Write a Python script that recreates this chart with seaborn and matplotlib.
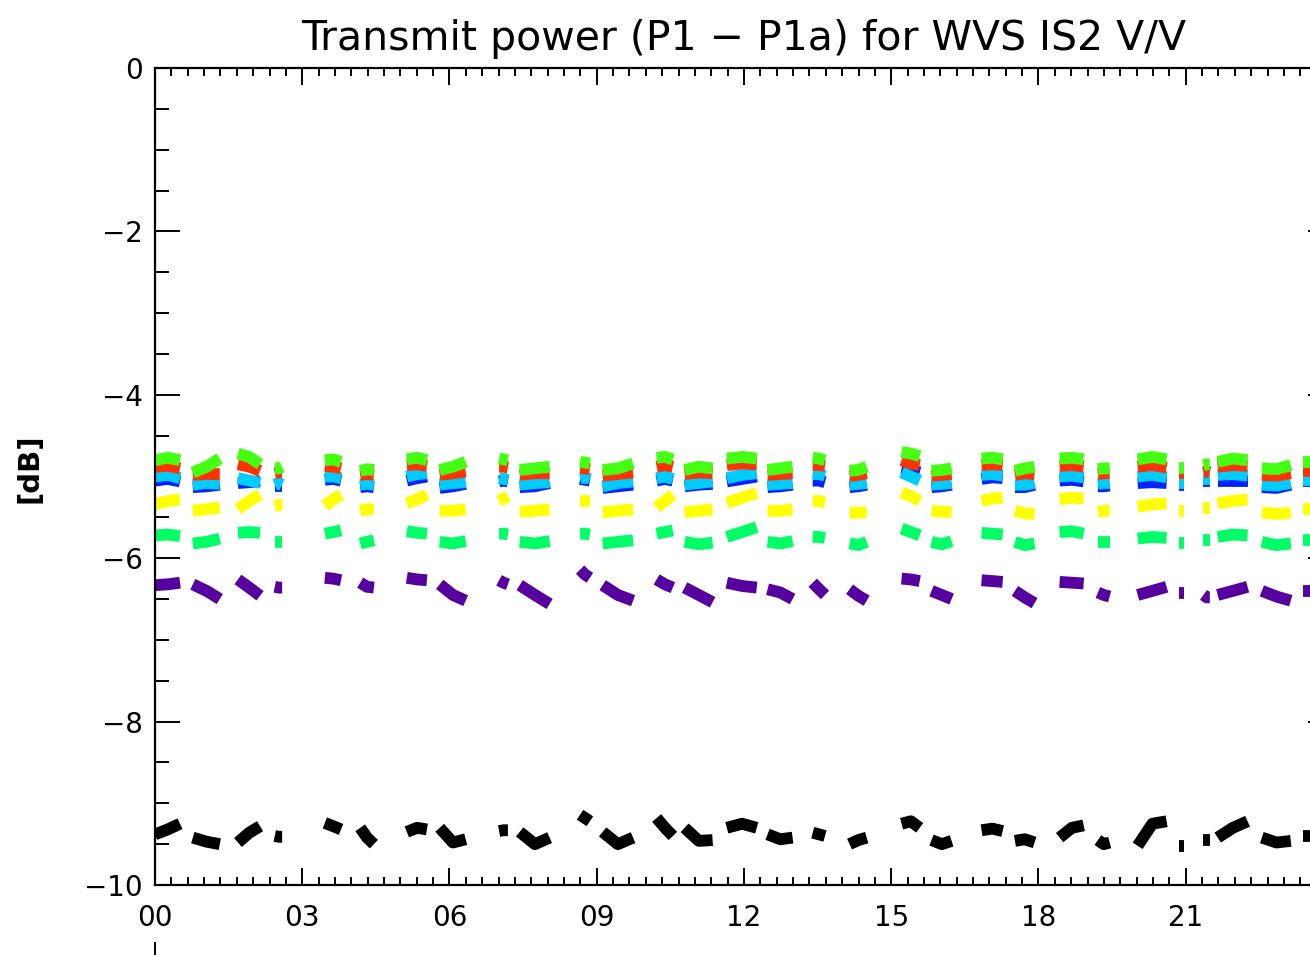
import numpy as np
import pandas as pd
import matplotlib
matplotlib.use("Agg")
import matplotlib.pyplot as plt
from matplotlib.ticker import MultipleLocator, FixedLocator
from matplotlib.lines import Line2D
import seaborn as sns

# pass windows (hours of day): start, middle, end
seg_start = [0.00, 0.77, 1.69, 2.44, 3.46, 4.18, 5.13, 5.80, 7.01, 7.43,
             8.66, 9.12, 10.22, 10.79, 11.65, 12.48, 13.40, 14.15, 15.21, 15.82,
             16.84, 17.52, 18.43, 19.21, 20.02, 20.86, 21.36, 21.65, 22.55, 23.38]
seg_mid = [0.26, 1.05, 1.92, 2.52, 3.63, 4.32, 5.34, 6.07, 7.10, 7.74,
           8.76, 9.43, 10.39, 11.08, 11.96, 12.74, 13.53, 14.33, 15.40, 16.03,
           17.06, 17.72, 18.68, 19.33, 20.32, 20.91, 21.43, 21.96, 22.85, 23.57]
seg_end = [0.51, 1.32, 2.14, 2.59, 3.79, 4.46, 5.54, 6.33, 7.19, 8.04,
           8.86, 9.74, 10.55, 11.36, 12.26, 12.99, 13.65, 14.50, 15.58, 16.23,
           17.27, 17.92, 18.92, 19.45, 20.61, 20.96, 21.49, 22.26, 23.14, 23.75]

# transmit power per pass (start, mid, end) in dB
lime = [(-4.80, -4.77, -4.80), (-4.95, -4.88, -4.78), (-4.72, -4.76, -4.85), (-4.90, -4.90, -4.88),
        (-4.80, -4.79, -4.82), (-4.93, -4.91, -4.92), (-4.79, -4.77, -4.80), (-4.92, -4.88, -4.82),
        (-4.78, -4.79, -4.80), (-4.92, -4.90, -4.88), (-4.82, -4.83, -4.84), (-4.92, -4.90, -4.84),
        (-4.77, -4.76, -4.79), (-4.92, -4.88, -4.90), (-4.78, -4.76, -4.78), (-4.92, -4.90, -4.88),
        (-4.77, -4.78, -4.80), (-4.93, -4.92, -4.88), (-4.70, -4.72, -4.75), (-4.93, -4.92, -4.90),
        (-4.78, -4.77, -4.79), (-4.93, -4.90, -4.88), (-4.78, -4.77, -4.79), (-4.91, -4.90, -4.90),
        (-4.79, -4.76, -4.79), (-4.90, -4.90, -4.90), (-4.86, -4.85, -4.85), (-4.82, -4.78, -4.80),
        (-4.90, -4.91, -4.86), (-4.82, -4.82, -4.82)]
red = [(-4.88, -4.87, -4.90), (-4.98, -4.97, -4.97), (-4.85, -4.88, -4.93), (-4.96, -4.95, -4.95),
       (-4.87, -4.88, -4.90), (-4.98, -4.97, -4.98), (-4.86, -4.85, -4.87), (-4.98, -4.96, -4.94),
       (-4.88, -4.88, -4.89), (-4.98, -4.96, -4.96), (-4.90, -4.90, -4.91), (-4.99, -4.97, -4.95),
       (-4.88, -4.86, -4.88), (-4.97, -4.95, -4.96), (-4.86, -4.84, -4.85), (-4.98, -4.97, -4.96),
       (-4.86, -4.86, -4.87), (-4.99, -4.98, -4.96), (-4.80, -4.84, -4.86), (-4.99, -4.98, -4.97),
       (-4.86, -4.85, -4.86), (-4.98, -4.96, -4.97), (-4.87, -4.86, -4.88), (-4.97, -4.96, -4.96),
       (-4.88, -4.86, -4.89), (-4.96, -4.96, -4.96), (-4.95, -4.94, -4.95), (-4.88, -4.86, -4.87),
       (-4.98, -4.99, -4.96), (-4.93, -4.93, -4.93)]
cyan = [(-5.00, -4.98, -5.02), (-5.10, -5.08, -5.09), (-5.02, -5.05, -5.08), (-5.10, -5.08, -5.10),
        (-5.00, -5.00, -5.02), (-5.10, -5.09, -5.10), (-5.00, -4.97, -4.96), (-5.10, -5.08, -5.07),
        (-5.02, -5.03, -5.04), (-5.10, -5.08, -5.07), (-5.02, -5.01, -5.03), (-5.12, -5.08, -5.06),
        (-5.02, -5.00, -5.03), (-5.10, -5.08, -5.06), (-5.02, -4.98, -4.96), (-5.10, -5.09, -5.08),
        (-4.97, -4.97, -4.99), (-5.10, -5.09, -5.08), (-4.95, -5.00, -5.05), (-5.10, -5.09, -5.08),
        (-4.98, -4.97, -4.99), (-5.10, -5.10, -5.08), (-5.00, -4.99, -5.01), (-5.09, -5.08, -5.08),
        (-5.00, -4.98, -5.01), (-5.08, -5.08, -5.08), (-5.03, -5.03, -5.03), (-4.98, -4.97, -4.99),
        (-5.10, -5.11, -5.08), (-5.04, -5.04, -5.04)]
blue = [(-5.05, -5.03, -5.06), (-5.13, -5.12, -5.10), (-5.08, -5.07, -5.06), (-5.12, -5.12, -5.12),
        (-5.04, -5.03, -5.05), (-5.13, -5.12, -5.13), (-5.05, -5.02, -5.00), (-5.14, -5.12, -5.09),
        (-5.06, -5.05, -5.06), (-5.13, -5.12, -5.08), (-5.03, -5.04, -5.05), (-5.14, -5.12, -5.10),
        (-5.05, -5.03, -5.05), (-5.12, -5.10, -5.09), (-5.06, -5.03, -5.00), (-5.13, -5.12, -5.10),
        (-5.05, -5.05, -5.07), (-5.13, -5.12, -5.10), (-4.90, -4.92, -4.95), (-5.13, -5.12, -5.10),
        (-5.03, -5.01, -5.02), (-5.13, -5.13, -5.10), (-5.05, -5.04, -5.06), (-5.12, -5.12, -5.11),
        (-5.08, -5.07, -5.08), (-5.11, -5.11, -5.11), (-5.06, -5.06, -5.06), (-5.05, -5.05, -5.05),
        (-5.13, -5.14, -5.10), (-5.06, -5.06, -5.06)]
yellow = [(-5.34, -5.30, -5.28), (-5.42, -5.40, -5.38), (-5.40, -5.30, -5.22), (-5.36, -5.35, -5.35),
          (-5.36, -5.28, -5.22), (-5.42, -5.40, -5.40), (-5.33, -5.28, -5.22), (-5.42, -5.42, -5.40),
          (-5.30, -5.27, -5.24), (-5.43, -5.42, -5.40), (-5.30, -5.30, -5.30), (-5.44, -5.42, -5.40),
          (-5.38, -5.30, -5.22), (-5.44, -5.42, -5.40), (-5.32, -5.26, -5.20), (-5.42, -5.42, -5.40),
          (-5.30, -5.30, -5.32), (-5.45, -5.44, -5.44), (-5.20, -5.24, -5.30), (-5.42, -5.43, -5.44),
          (-5.30, -5.27, -5.26), (-5.42, -5.45, -5.46), (-5.28, -5.26, -5.27), (-5.43, -5.42, -5.42),
          (-5.37, -5.34, -5.33), (-5.42, -5.42, -5.42), (-5.38, -5.38, -5.38), (-5.33, -5.30, -5.28),
          (-5.44, -5.46, -5.44), (-5.40, -5.40, -5.40)]
spring = [(-5.72, -5.71, -5.73), (-5.82, -5.80, -5.76), (-5.69, -5.68, -5.69), (-5.80, -5.80, -5.80),
          (-5.70, -5.68, -5.66), (-5.82, -5.80, -5.78), (-5.67, -5.69, -5.70), (-5.80, -5.82, -5.79),
          (-5.70, -5.70, -5.71), (-5.80, -5.82, -5.79), (-5.70, -5.70, -5.71), (-5.82, -5.80, -5.78),
          (-5.70, -5.68, -5.66), (-5.80, -5.83, -5.81), (-5.74, -5.68, -5.62), (-5.80, -5.82, -5.79),
          (-5.74, -5.74, -5.75), (-5.82, -5.84, -5.80), (-5.64, -5.68, -5.72), (-5.80, -5.83, -5.79),
          (-5.69, -5.70, -5.71), (-5.80, -5.84, -5.82), (-5.68, -5.67, -5.70), (-5.80, -5.80, -5.80),
          (-5.76, -5.74, -5.75), (-5.82, -5.82, -5.82), (-5.78, -5.78, -5.78), (-5.74, -5.71, -5.72),
          (-5.80, -5.84, -5.82), (-5.78, -5.78, -5.78)]
purple = [(-6.33, -6.32, -6.30), (-6.32, -6.40, -6.50), (-6.26, -6.36, -6.46), (-6.35, -6.36, -6.36),
          (-6.24, -6.25, -6.27), (-6.30, -6.35, -6.36), (-6.24, -6.26, -6.27), (-6.32, -6.45, -6.52),
          (-6.27, -6.30, -6.32), (-6.33, -6.45, -6.56), (-6.14, -6.20, -6.24), (-6.33, -6.45, -6.52),
          (-6.26, -6.32, -6.36), (-6.36, -6.45, -6.54), (-6.30, -6.34, -6.36), (-6.38, -6.42, -6.50),
          (-6.30, -6.38, -6.45), (-6.38, -6.46, -6.52), (-6.25, -6.26, -6.28), (-6.40, -6.45, -6.50),
          (-6.27, -6.28, -6.29), (-6.40, -6.48, -6.55), (-6.29, -6.30, -6.31), (-6.42, -6.45, -6.47),
          (-6.45, -6.40, -6.35), (-6.43, -6.43, -6.43), (-6.45, -6.48, -6.48), (-6.45, -6.40, -6.35),
          (-6.40, -6.47, -6.52), (-6.40, -6.40, -6.40)]
black = [(-9.38, -9.32, -9.25), (-9.42, -9.47, -9.50), (-9.48, -9.36, -9.28), (-9.40, -9.41, -9.41),
         (-9.24, -9.28, -9.32), (-9.30, -9.42, -9.50), (-9.35, -9.30, -9.32), (-9.30, -9.48, -9.44),
         (-9.34, -9.33, -9.33), (-9.35, -9.50, -9.42), (-9.14, -9.18, -9.22), (-9.35, -9.50, -9.42),
         (-9.18, -9.30, -9.40), (-9.30, -9.46, -9.45), (-9.30, -9.25, -9.30), (-9.38, -9.44, -9.42),
         (-9.36, -9.38, -9.40), (-9.50, -9.45, -9.42), (-9.25, -9.22, -9.30), (-9.45, -9.50, -9.46),
         (-9.33, -9.31, -9.34), (-9.46, -9.44, -9.48), (-9.42, -9.30, -9.27), (-9.45, -9.50, -9.48),
         (-9.52, -9.25, -9.22), (-9.52, -9.52, -9.52), (-9.45, -9.45, -9.45), (-9.42, -9.30, -9.22),
         (-9.42, -9.48, -9.46), (-9.40, -9.40, -9.40)]

series = {"black": black, "purple": purple, "spring": spring, "yellow": yellow,
          "blue": blue, "cyan": cyan, "red": red, "lime": lime}
palette = {"black": "#000000", "purple": "#55009f", "spring": "#00ff66", "yellow": "#ffff00",
           "blue": "#0022ff", "cyan": "#00ccff", "red": "#ff3300", "lime": "#44ff11"}

hour_ticks = [0, 3, 6, 9, 12, 15, 18, 21]
hour_labels = ["00", "03", "06", "09", "12", "15", "18", "21"]

rows = []
for name, vals in series.items():
    for i, (a, b, c) in enumerate(vals):
        for t, v in zip((seg_start[i], seg_mid[i], seg_end[i]), (a, b, c)):
            rows.append({"hour": t, "value": v, "series": name, "segment": i})
df = pd.DataFrame(rows)

sns.set_style("ticks")
plt.rcParams["font.family"] = ["DejaVu Sans"]
plt.rcParams["lines.solid_capstyle"] = "butt"
plt.rcParams["lines.solid_joinstyle"] = "round"
for key in ("text.color", "axes.labelcolor", "xtick.color", "ytick.color"):
    plt.rcParams[key] = "black"

W, H = 1310, 955
fig = plt.figure(figsize=(W / 100, H / 100), dpi=100)
ax = fig.add_axes([155 / W, 70 / H, (1333 - 155) / W, (885 - 68) / H])

# draw order follows hue_order: blue first so cyan sits on top of it
sns.lineplot(data=df, x="hour", y="value", hue="series", units="segment",
             estimator=None, sort=False, palette=palette,
             hue_order=list(series.keys()), linewidth=8.5, legend=False, ax=ax)

ax.set_xlim(0, 24)
ax.set_ylim(-10, 0)
ax.xaxis.set_major_locator(FixedLocator(hour_ticks))
ax.set_xticklabels(hour_labels)
ax.xaxis.set_minor_locator(MultipleLocator(1 / 3))
ax.yaxis.set_major_locator(MultipleLocator(2))
ax.yaxis.set_minor_locator(MultipleLocator(0.5))

for s in ax.spines.values():
    s.set_visible(True)
    s.set_linewidth(1.6)
    s.set_color("black")

ax.tick_params(which="both", direction="in", top=True, right=True,
               width=1.4, colors="black", labelsize=20)
ax.tick_params(axis="x", which="major", length=12, pad=14)
ax.tick_params(axis="x", which="minor", length=6)
ax.tick_params(axis="y", which="major", length=18, pad=9)
ax.tick_params(axis="y", which="minor", length=10)

ax.set_xlabel("")
ax.set_ylabel("[dB]", fontsize=21, fontweight="bold", color="black")
ax.yaxis.set_label_coords((43 - 155) / 1178, 0.51)
ax.set_title("Transmit power (P1 \u2212 P1a) for WVS IS2 V/V", fontsize=29.5,
             pad=13, color="black")

fig.add_artist(Line2D([155 / W, 155 / W], [0, 13 / H], color="black", lw=1.4))

fig.savefig("out.png", dpi=100)
